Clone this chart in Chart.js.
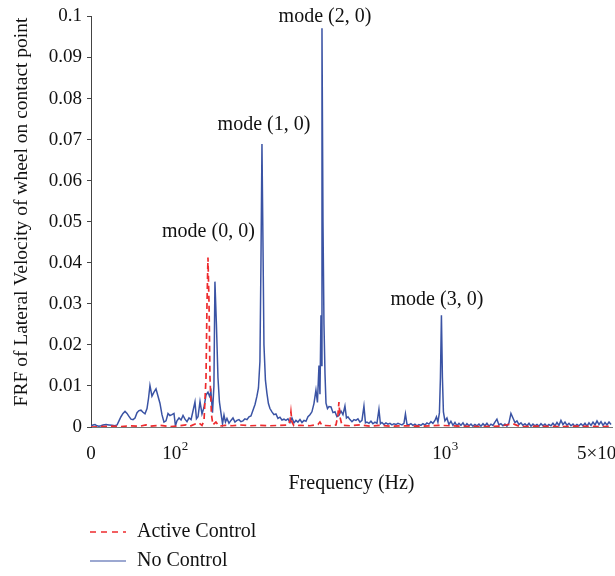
<!DOCTYPE html>
<html>
<head>
<meta charset="utf-8">
<script src="https://cdn.jsdelivr.net/npm/chart.js@4.4.1/dist/chart.umd.min.js"></script>
<style>
html, body { margin: 0; padding: 0; background: #fff; }
</style>
</head>
<body>
<canvas id="frf" width="615" height="576"></canvas>
<script>
// frequency (Hz) and FRF magnitude
var freqNoControl = [
    0, 2.4, 4.8, 7.1, 9.5, 11.9, 14.3, 17.9, 21.4, 25,
    28.6, 31, 33.3, 35.7, 38.1, 40.5, 42.9, 45.2, 47.6, 50,
    52.4, 54.8, 57.1, 59.5, 61.9, 64.3, 66.7, 68.5, 70.2, 72.6,
    75, 77.4, 79.8, 82.1, 84.5, 86.9, 89.3, 91.7, 94, 96.4,
    98.8, 100.4, 101.7, 103.5, 105.3, 107.1, 108.9, 110.8, 112.7, 114.7,
    116.6, 118.6, 120.1, 121.7, 123.8, 125.9, 128.1, 130.3, 132.5, 134.2,
    135.9, 137.7, 139.4, 140.6, 142.4, 144.3, 146.1, 148.1, 150, 151.9,
    153.8, 155.8, 158.5, 161.2, 164, 166.8, 169.7, 172.6, 175.5, 178.6,
    181.6, 184.8, 188, 191.2, 194.5, 197.9, 201.2, 203.8, 206.4, 208.2,
    210, 211.8, 213.6, 216.3, 219.1, 221.9, 224.8, 228.7, 232.6, 236.6,
    240.7, 244.8, 249, 253.4, 257.7, 262.2, 266.7, 271.2, 275.9, 280.6,
    285.4, 290.4, 295.4, 300.5, 305.7, 310.9, 316.2, 321.6, 327.2, 332.8,
    337.1, 341.5, 344.4, 347.4, 348.9, 350.4, 353.4, 356.4, 359.5, 362.6,
    367.2, 372, 378.4, 384.9, 391.5, 398.1, 404.9, 411.9, 419, 426.2,
    431.7, 437.3, 444.8, 452.5, 460.3, 468.2, 476.2, 484.4, 492.8, 501.2,
    507.7, 514.2, 523.1, 532.1, 541.2, 550.5, 560, 569.6, 576.9, 584.3,
    594.4, 604.6, 615, 625.6, 636.4, 647.3, 658.5, 669.9, 681.3, 693,
    705, 714, 723.3, 735.6, 748.3, 761.1, 774.2, 787.6, 801.1, 814.9,
    828.9, 843.2, 857.7, 872.5, 887.5, 902.7, 918.3, 930.1, 942, 954.2,
    962.3, 970.6, 978.9, 987.2, 1000, 1021, 1042, 1064, 1087, 1110,
    1133, 1157, 1181, 1206, 1231, 1257, 1284, 1311, 1338, 1366,
    1395, 1424, 1454, 1485, 1515, 1547, 1580, 1613, 1647, 1681,
    1716, 1752, 1789, 1827, 1865, 1904, 1944, 1985, 2027, 2069,
    2113, 2157, 2203, 2249, 2296, 2344, 2394, 2444, 2495, 2548,
    2601, 2656, 2712, 2769, 2826, 2886, 2946, 3008, 3071, 3136,
    3202, 3269, 3337, 3408, 3480, 3553, 3627, 3703, 3781, 3861,
    3942, 4025, 4109, 4196, 4283, 4373, 4465, 4559, 4655, 4753,
    4852, 4954, 5058, 5165, 5273, 5384, 5497, 5613
];
var noControl = [
    0.0002, 0.0005, 0.0006, 0.0003, 0.0002, 0.0003, 0.0005, 0.0006, 0.0005, 0.0004,
    0.0003, 0.0005, 0.0015, 0.0025, 0.0033, 0.0038, 0.0033, 0.0026, 0.0019, 0.0018,
    0.0022, 0.0035, 0.004, 0.0041, 0.0036, 0.0032, 0.0045, 0.007, 0.0101, 0.0075,
    0.0085, 0.0093, 0.0075, 0.0058, 0.003, 0.0012, 0.0015, 0.0033, 0.0028, 0.003,
    0.0033, 0.0003, 0.0015, 0.0022, 0.0017, 0.0028, 0.0019, 0.0013, 0.0022, 0.0018,
    0.0039, 0.0061, 0.002, 0.0025, 0.0062, 0.0032, 0.0048, 0.0078, 0.0085, 0.0075,
    0.0086, 0.0035, 0.01, 0.0354, 0.025, 0.012, 0.0061, 0.0033, 0.0008, 0.0029,
    0.0012, 0.0021, 0.0009, 0.0016, 0.0022, 0.0012, 0.0016, 0.0018, 0.0013, 0.0015,
    0.002, 0.0018, 0.0025, 0.0027, 0.0041, 0.0055, 0.0075, 0.0095, 0.016, 0.04,
    0.0689, 0.045, 0.02, 0.0114, 0.0082, 0.0057, 0.0045, 0.0037, 0.003, 0.0032,
    0.0021, 0.0024, 0.0017, 0.0019, 0.0016, 0.002, 0.0011, 0.0022, 0.001, 0.0016,
    0.0012, 0.0018, 0.0011, 0.0016, 0.0014, 0.0025, 0.003, 0.0037, 0.0057, 0.009,
    0.006, 0.015, 0.008, 0.0272, 0.015, 0.0971, 0.05, 0.025, 0.013, 0.0058,
    0.0045, 0.005, 0.0049, 0.0035, 0.0037, 0.0025, 0.0028, 0.0039, 0.003, 0.0051,
    0.0022, 0.0025, 0.0018, 0.0013, 0.0018, 0.0016, 0.002, 0.0012, 0.0016, 0.0051,
    0.001, 0.0012, 0.0009, 0.0014, 0.0008, 0.0012, 0.0009, 0.0043, 0.0008, 0.0011,
    0.0006, 0.001, 0.0007, 0.0009, 0.0005, 0.0008, 0.0006, 0.0009, 0.0007, 0.0005,
    0.0009, 0.0032, 0.0007, 0.0005, 0.0008, 0.0004, 0.0007, 0.0003, 0.0006, 0.0004,
    0.0008, 0.0005, 0.001, 0.0007, 0.0013, 0.0009, 0.0016, 0.0025, 0.0012, 0.0035,
    0.012, 0.0272, 0.012, 0.0037, 0.0015, 0.0022, 0.0006, 0.0014, 0.0004, 0.0011,
    0.0003, 0.0009, 0.0004, 0.001, 0.0002, 0.0008, 0.0003, 0.0007, 0.0002, 0.0006,
    0.0003, 0.0007, 0.0002, 0.0008, 0.0003, 0.0009, 0.0002, 0.0007, 0.0004, 0.0012,
    0.0019, 0.0005, 0.0008, 0.0003, 0.0007, 0.0002, 0.001, 0.0033, 0.0022, 0.0011,
    0.0015, 0.0006, 0.001, 0.0004, 0.0008, 0.0003, 0.0009, 0.0002, 0.0007, 0.0003,
    0.0006, 0.0002, 0.0008, 0.0003, 0.0007, 0.0002, 0.0006, 0.0003, 0.0009, 0.0003,
    0.0011, 0.0004, 0.0016, 0.0006, 0.0012, 0.0004, 0.0009, 0.0003, 0.0007, 0.0002,
    0.0006, 0.0003, 0.0008, 0.0003, 0.0009, 0.0002, 0.001, 0.0004, 0.0012, 0.0005,
    0.0015, 0.0006, 0.0013, 0.0004, 0.0011, 0.0005, 0.0012, 0.0006
];

var freqActive = [
    0, 10.7, 22.6, 34.5, 46.4, 58.3, 65.5, 70.2, 82.1, 94,
    104.4, 109.9, 113.7, 119.6, 122.7, 125.9, 128.1, 130.3, 131.4, 132.5,
    133.7, 134.8, 136.5, 138.2, 141.8, 145.5, 153.2, 162.6, 174, 189.6,
    206.4, 224.8, 244.8, 262.2, 266.7, 268.9, 271.2, 275.9, 290.4, 316.2,
    338.6, 344.4, 350.4, 375.1, 394.9, 401.5, 404.9, 408.4, 415.5, 444.8,
    484.4, 527.5, 574.5, 625.6, 681.3, 808, 958.2, 1169, 1439, 1770,
    2027, 2180, 2684, 3303, 4067, 5000, 5613
];
var activeControl = [
    0, 0.0001, 0.0002, 0.0001, 0.0003, 0.0002, 0.0005, 0.0002, 0.0004, 0.0001,
    0.0003, 0.0005, 0.0002, 0.0008, 0.001, 0.0004, 0.0015, 0.012, 0.03, 0.0413,
    0.03, 0.012, 0.003, 0.0005, 0.0012, 0.0002, 0.0004, 0.0003, 0.0005, 0.0003,
    0.0004, 0.0003, 0.0004, 0.0005, 0.0015, 0.0037, 0.0012, 0.0003, 0.0004, 0.0003,
    0.0006, 0.0012, 0.0004, 0.0003, 0.0005, 0.003, 0.0061, 0.0025, 0.0004, 0.0003,
    0.0005, 0.0002, 0.0004, 0.0002, 0.0003, 0.0002, 0.0004, 0.0002, 0.0001, 0.0002,
    0.0008, 0.0001, 0.0002, 0.0001, 0.0002, 0.0001, 0.0002
];

var tickFreqs = [0, 100, 1000, 5000];
// tick label = base text + superscript exponent
var tickBase = ['0', '10', '10', '5\u00D710'];
var tickExp = ['', '2', '3', '3'];
var modeNames = ['mode (0, 0)', 'mode (1, 0)', 'mode (2, 0)', 'mode (3, 0)'];
var fMax = 5670;

// the figure's frequency axis comes in three stretches: linear up to 10^2,
// log from 10^2 to 10^3, then a tighter log above 10^3
var axisSpan = [84, 270, 155];
function toAxis(f) {
    if (f <= 100) return f / 100 * axisSpan[0];
    if (f <= 1000) return axisSpan[0] + axisSpan[1] * Math.log10(f / 100);
    return axisSpan[0] + axisSpan[1] + axisSpan[2] * Math.log10(f / 1000) / Math.log10(5);
}

function pts(fs, vs) {
    return fs.map(function (f, i) { return { x: toAxis(f), y: vs[i] }; });
}

var serif = '"Liberation Serif", "Times New Roman", serif';
var red = '#EE2B2E';
var blue = '#3A53A4';

// mode labels sit above their peaks: [freq Hz, level]
var modeAnchors = [[133, 0.0476], [213.6, 0.0735], [359.5, 0.0998], [934, 0.0311]];

var extras = {
    id: 'extras',
    afterDraw: function (chart) {
        var ctx = chart.ctx;
        var xs = chart.scales.x, ys = chart.scales.y;
        ctx.save();
        ctx.fillStyle = '#111';
        ctx.font = '20px ' + serif;
        ctx.textAlign = 'center';
        ctx.textBaseline = 'middle';
        modeNames.forEach(function (t, i) {
            var a = modeAnchors[i];
            ctx.fillText(t, xs.getPixelForValue(toAxis(a[0])), ys.getPixelForValue(a[1]));
        });

        // x tick labels with real superscripts
        ctx.textAlign = 'left';
        ctx.textBaseline = 'alphabetic';
        xs.ticks.forEach(function (tk, i) {
            ctx.font = '19px ' + serif;
            var wb = ctx.measureText(tickBase[i]).width;
            ctx.font = '13px ' + serif;
            var we = ctx.measureText(tickExp[i]).width;
            var x0 = xs.getPixelForValue(tk.value) - (wb + we) / 2;
            ctx.font = '19px ' + serif;
            ctx.fillText(tickBase[i], x0, 459);
            ctx.font = '13px ' + serif;
            ctx.fillText(tickExp[i], x0 + wb + 0.5, 450);
        });

        // y title, a little above the middle of the axis like the original
        ctx.save();
        ctx.textAlign = 'center';
        ctx.textBaseline = 'middle';
        ctx.translate(22, 212);
        ctx.rotate(-Math.PI / 2);
        ctx.font = '19.5px ' + serif;
        ctx.fillText('FRF of Lateral Velocity of wheel on contact point', 0, 0);
        ctx.restore();

        // legend, stacked under the axis title
        ctx.textAlign = 'left';
        ctx.textBaseline = 'middle';
        ctx.font = '20px ' + serif;
        ctx.lineWidth = 1.6;
        ctx.strokeStyle = red;
        ctx.setLineDash([6, 5]);
        ctx.beginPath(); ctx.moveTo(90, 532); ctx.lineTo(126, 532); ctx.stroke();
        ctx.setLineDash([]);
        ctx.strokeStyle = blue;
        ctx.lineWidth = 1.2;
        ctx.beginPath(); ctx.moveTo(90, 561); ctx.lineTo(126, 561); ctx.stroke();
        ctx.fillText('Active Control', 137, 532);
        ctx.fillText('No Control', 137, 561);
        ctx.restore();
    }
};

new Chart(document.getElementById('frf'), {
    type: 'line',
    data: {
        datasets: [{
            label: 'Active Control',
            data: pts(freqActive, activeControl),
            borderColor: red,
            borderWidth: 1.7,
            borderDash: [6, 4],
            pointRadius: 0,
            tension: 0,
            order: 0
        }, {
            label: 'No Control',
            data: pts(freqNoControl, noControl),
            borderColor: blue,
            borderWidth: 1.5,
            pointRadius: 0,
            tension: 0,
            order: 1
        }]
    },
    options: {
        responsive: false,
        animation: false,
        layout: { padding: { top: 15, right: 3, bottom: 80, left: 0 } },
        plugins: { legend: { display: false }, tooltip: { enabled: false } },
        scales: {
            x: {
                type: 'linear',
                min: 0,
                max: toAxis(fMax),
                afterBuildTicks: function (s) {
                    s.ticks = tickFreqs.map(function (f) { return { value: toAxis(f) }; });
                },
                afterFit: function (s) { s.height = 69; s.paddingLeft = 0; s.paddingRight = 0; },
                ticks: { display: false },
                grid: { display: false },
                border: { display: true, color: '#777', width: 1 },
                title: {
                    display: true,
                    text: 'Frequency (Hz)',
                    color: '#111',
                    font: { family: serif, size: 20 },
                    padding: { top: 0, bottom: 0 }
                }
            },
            y: {
                min: 0,
                max: 0.1,
                afterFit: function (s) { s.width = 91; },
                ticks: {
                    stepSize: 0.01,
                    padding: 5,
                    color: '#111',
                    font: { family: serif, size: 19 },
                    callback: function (v) { return String(+v.toFixed(2)); }
                },
                grid: { drawOnChartArea: false, drawTicks: true, tickLength: 4, color: '#444' },
                border: { display: true, color: '#444', width: 1 }
            }
        }
    },
    plugins: [extras]
});
</script>
</body>
</html>
